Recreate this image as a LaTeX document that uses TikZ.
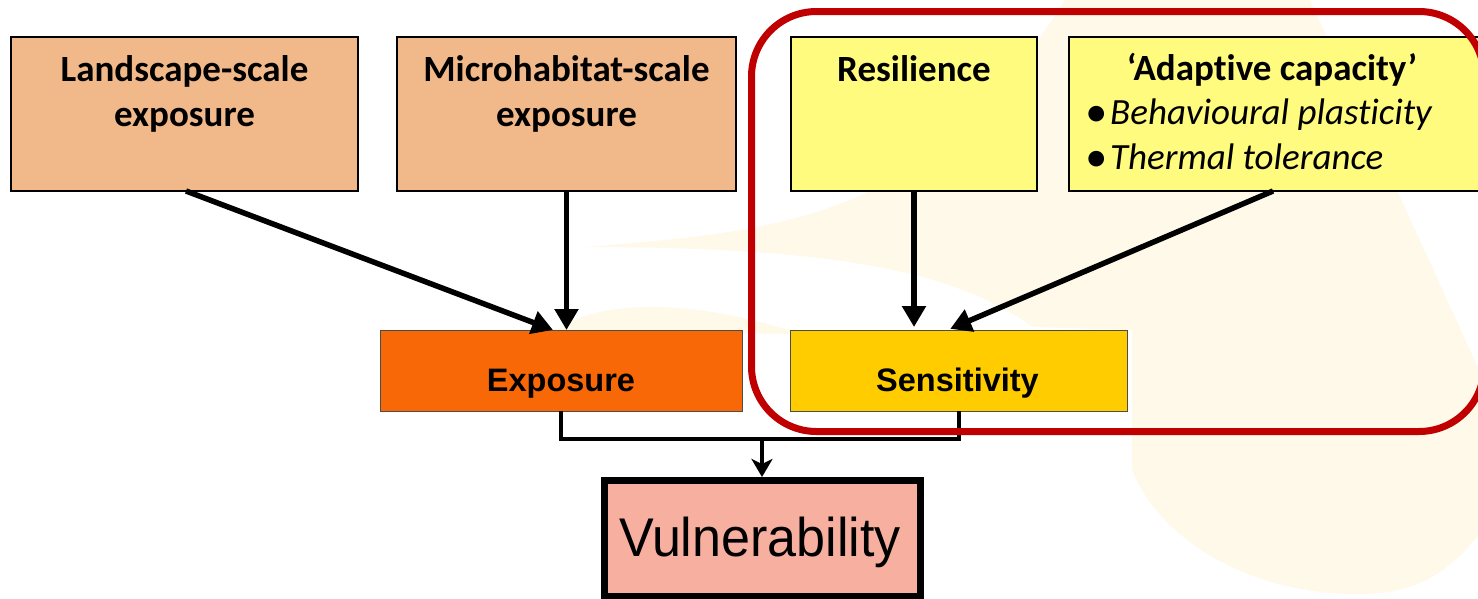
\documentclass[tikz,border=0pt]{standalone}
\usepackage{fontspec}
\setmainfont{Carlito}[Ligatures={NoCommon,NoContextual}]
\newfontfamily\arialfont{Liberation Sans}
\usetikzlibrary{arrows.meta}

\definecolor{tanbox}{HTML}{F1B88A}
\definecolor{paleyellow}{HTML}{FFFB7E}
\definecolor{expoorange}{HTML}{F96806}
\definecolor{sensgold}{HTML}{FFCC00}
\definecolor{vulpink}{HTML}{F7AFA0}
\definecolor{framered}{HTML}{C00000}
\definecolor{cream}{HTML}{FFF9EA}

\newcommand{\stacklines}[2]{\begin{tabular}[t]{@{}#1@{}}#2\end{tabular}}
\newcommand{\dotitem}{\makebox[23pt][l]{\textbf{•}}}

\tikzset{
  box/.style={draw=black, line width=1.5pt, inner sep=0pt, outer sep=0pt},
  tanstyle/.style={box, fill=tanbox, minimum height=154pt},
  yelstyle/.style={box, fill=paleyellow, minimum height=154pt},
  midbox/.style={draw=black!70, line width=1pt, inner sep=0pt, outer sep=0pt, minimum height=81pt},
  toptext/.style={anchor=base, inner sep=0pt, font=\fontsize{37}{45}\selectfont\bfseries},
  midtext/.style={anchor=base, inner sep=0pt, font=\arialfont\fontsize{32.5}{38}\selectfont\bfseries},
  bigarrow/.style={line width=5.5pt, -{Triangle[length=21pt,width=23pt]}},
  joinline/.style={line width=4pt},
  smallarrow/.style={line width=4pt, -{Stealth[length=18pt,width=21pt,inset=5pt]}},
}

\begin{document}
\begin{tikzpicture}[x=1pt, y=-1pt]
\useasboundingbox (0,0) rectangle (1478,598);
\clip (0,0) rectangle (1478,598);
\fill[white] (0,0) rectangle (1478,598);

% faint background swoosh
\fill[cream] (585,247) .. controls (800,230) and (930,215) .. (1065,0)
  -- (1310,0) -- (1480,372) -- (1480,533)
  .. controls (1440,585) and (1400,594) .. (1357,594)
  .. controls (1250,594) and (1160,540) .. (1132,470)
  -- (1132,330) -- (1033,327)
  .. controls (960,275) and (850,247) .. (585,247) -- cycle;
\fill[cream] (555,331) .. controls (600,297) and (700,300) .. (800,334) -- cycle;

% top row boxes
\node[tanstyle, minimum width=347pt] (land) at (184.5,114) {};
\node[tanstyle, minimum width=339pt] (micro) at (566.5,114) {};
\node[yelstyle, minimum width=246pt] (resil) at (914,114) {};
\node[yelstyle, minimum width=421pt] (adapt) at (1279.5,114) {};

\node[toptext] (landtxt) at (184.5,81) {\stacklines{c}{Landscape-scale\\exposure}};
\node[toptext] (microtxt) at (566.5,81) {\stacklines{c}{Microhabitat-scale\\exposure}};
\node[toptext] (resiltxt) at (914,81) {Resilience};
\node[toptext] (adapttxt) at (1272,80) {‘Adaptive capacity’};
\node[toptext, anchor=base west, font=\fontsize{37}{45}\selectfont] (adaptlist) at (1087,124)
  {\stacklines{l}{\dotitem\textit{Behavioural plasticity}\\
                  \dotitem\textit{Thermal tolerance}}};

% middle row
\node[midbox, fill=expoorange, minimum width=362pt] (expo) at (561,370.5) {};
\node[midbox, fill=sensgold, minimum width=337pt] (sens) at (958.5,370.5) {};
\node[midtext] (expotxt) at (561,391) {Exposure};
\node[midtext] (senstxt) at (957.5,391) {Sensitivity};

% outcome
\node[draw=black, line width=7pt, fill=vulpink, inner sep=0pt, outer sep=3.5pt,
      minimum width=316pt, minimum height=115.5pt] (vul) at (762,538.25) {};
\node[anchor=base, inner sep=0pt] (vultxt) at (760,556)
  {\arialfont\fontsize{54.5}{60}\selectfont\scalebox{0.955}[1]{Vulnerability}};

% arrows into the middle row
\draw[bigarrow] ([xshift=1.5pt]land.south) -- ([xshift=-8pt]expo.north);
\draw[bigarrow] (micro.south) -- (micro.south |- expo.north);
\draw[bigarrow, shorten >=3pt] (resil.south) -- (resil.south |- sens.north);
\draw[bigarrow, shorten >=3pt] ([xshift=204pt]adapt.south west) -- ([xshift=-11pt]sens.north);

% combining connector
\draw[joinline] (expo.south) -- ++(0,28) coordinate (jl) -| (sens.south);
\coordinate (join) at (vul.north |- jl);
\draw[smallarrow] (join) -- (vul.north);

% grouping frame
\node[draw=framered, line width=7pt, rounded corners=65pt, inner sep=0pt,
      minimum width=732.5pt, minimum height=420pt] (group) at (1117.75,221.5) {};
\end{tikzpicture}
\end{document}
